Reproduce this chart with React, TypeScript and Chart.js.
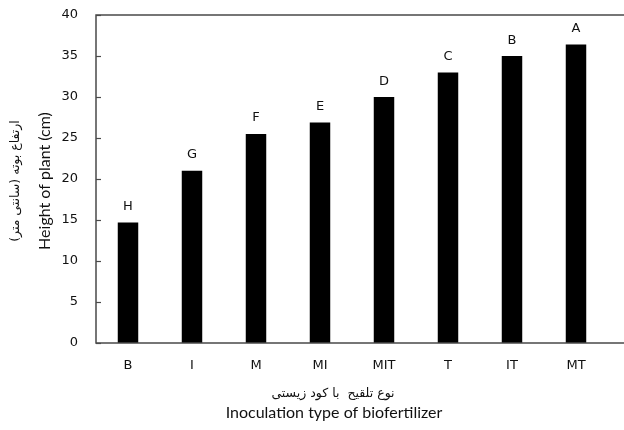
import React, { useEffect, useRef } from "react";
import { Chart, registerables } from "chart.js";

Chart.register(...registerables);

// Inoculation treatments and mean plant height (cm)
const categories = ["B", "I", "M", "MI", "MIT", "T", "IT", "MT"];
const heights = [14.7, 21, 25.5, 26.9, 30, 33, 35, 36.4];
// Mean-comparison group letters shown above each bar
const groupLetters = ["H", "G", "F", "E", "D", "C", "B", "A"];
const yTickValues = [0, 5, 10, 15, 20, 25, 30, 35, 40];

const yTitleFa = "ارتفاع بوته (سانتی متر)";
const yTitleEn = "Height of plant (cm)";
const xTitleFa = "نوع تلقیح  با کود زیستی";
const xTitleEn = "Inoculation type of biofertilizer";

const FRAME_COLOR = "#4a4a4a";
const TEXT_COLOR = "#111";
const TICK_FONT = "DejaVu Sans";
const TITLE_FONT = "Lato";

const decorPlugin = {
  id: "frameAndLabels",
  afterDraw(chart: any) {
    const { ctx, chartArea } = chart;
    const { left, top, bottom } = chartArea;
    const yScale = chart.scales.y;
    ctx.save();

    // plot frame: left edge plus top and bottom rules running off to the right
    ctx.strokeStyle = FRAME_COLOR;
    ctx.lineWidth = 1.5;
    ctx.beginPath();
    ctx.moveTo(chart.width, top);
    ctx.lineTo(left, top);
    ctx.lineTo(left, bottom);
    ctx.lineTo(chart.width, bottom);
    ctx.stroke();

    // inward tick marks on the value axis
    ctx.lineWidth = 1.2;
    yTickValues.forEach((v) => {
      const y = Math.round(yScale.getPixelForValue(v)) + 0.5;
      ctx.beginPath();
      ctx.moveTo(left, y);
      ctx.lineTo(left + 5, y);
      ctx.stroke();
    });

    // group letters above the bars
    const meta = chart.getDatasetMeta(0);
    ctx.fillStyle = TEXT_COLOR;
    ctx.font = `13px "${TICK_FONT}"`;
    ctx.textAlign = "center";
    ctx.textBaseline = "alphabetic";
    meta.data.forEach((bar: any, i: number) => {
      ctx.fillText(groupLetters[i], bar.x, bar.y - 12.5);
    });

    // value-axis titles (Persian and English), rotated
    const midY = (top + bottom) / 2 + 2;
    ctx.save();
    ctx.translate(16, midY);
    ctx.rotate(-Math.PI / 2);
    ctx.textBaseline = "middle";
    ctx.font = `12.5px "DejaVu Sans"`;
    ctx.fillText(yTitleFa, 0, 0);
    ctx.restore();

    ctx.save();
    ctx.translate(45, midY);
    ctx.rotate(-Math.PI / 2);
    ctx.textBaseline = "middle";
    ctx.font = `16px "${TITLE_FONT}"`;
    ctx.fillText(yTitleEn, 0, 0);
    ctx.restore();

    // category-axis titles
    ctx.textBaseline = "middle";
    ctx.font = `12.5px "DejaVu Sans"`;
    ctx.fillText(xTitleFa, 333, 394);
    ctx.font = `16px "${TITLE_FONT}"`;
    ctx.fillText(xTitleEn, 334, 413);

    ctx.restore();
  },
};

export default function App() {
  const canvasRef = useRef<HTMLCanvasElement | null>(null);

  useEffect(() => {
    if (!canvasRef.current) return;
    const chart = new Chart(canvasRef.current, {
      type: "bar",
      data: {
        labels: categories,
        datasets: [
          {
            data: heights,
            backgroundColor: "#000",
            borderColor: "#000",
            borderWidth: 0,
            barPercentage: 0.32,
            categoryPercentage: 1,
          },
        ],
      },
      options: {
        animation: false,
        responsive: true,
        maintainAspectRatio: false,
        layout: { padding: { top: 15, right: 16, bottom: 0, left: 0 } },
        plugins: {
          legend: { display: false },
          tooltip: { enabled: false },
        },
        scales: {
          x: {
            grid: { display: false, drawTicks: false },
            border: { display: false },
            ticks: {
              color: TEXT_COLOR,
              font: { family: TICK_FONT, size: 13 },
              padding: 15,
            },
            afterFit: (scale: any) => {
              scale.height = 87;
              scale.paddingLeft = 0;
              scale.paddingRight = 0;
            },
          },
          y: {
            min: 0,
            max: 40,
            grid: { display: false, drawTicks: false },
            border: { display: false },
            ticks: {
              stepSize: 5,
              color: TEXT_COLOR,
              font: { family: TICK_FONT, size: 13 },
              padding: 18,
            },
            afterFit: (scale: any) => {
              scale.width = 96;
              scale.paddingTop = 0;
              scale.paddingBottom = 0;
            },
          },
        },
      },
      plugins: [decorPlugin],
    });
    return () => chart.destroy();
  }, []);

  return (
    <div style={{ position: "fixed", left: 0, top: 0, width: 624, height: 430, background: "#fff" }}>
      <canvas ref={canvasRef} />
    </div>
  );
}
